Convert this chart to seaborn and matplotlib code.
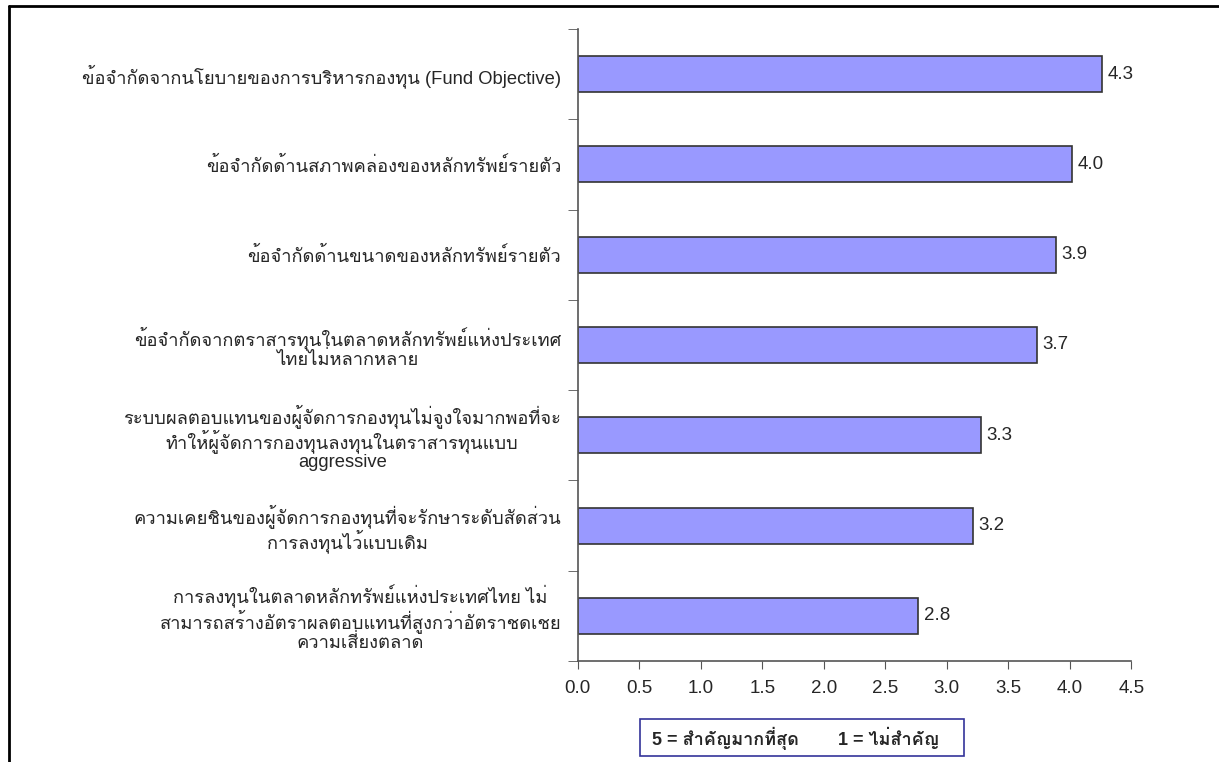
import matplotlib
matplotlib.use("Agg")
import matplotlib.pyplot as plt
import seaborn as sns
import pandas as pd
from matplotlib.lines import Line2D
from matplotlib.patches import Rectangle
from matplotlib.ticker import FixedLocator

# ข้อมูลจากกราฟ (คะแนนเฉลี่ย)
factors = [
    "ข้อจำกัดจากนโยบายของการบริหารกองทุน (Fund Objective)",
    "ข้อจำกัดด้านสภาพคล่องของหลักทรัพย์รายตัว",
    "ข้อจำกัดด้านขนาดของหลักทรัพย์รายตัว",
    "ข้อจำกัดจากตราสารทุนในตลาดหลักทรัพย์แห่งประเทศ\nไทยไม่หลากหลาย",
    "ระบบผลตอบแทนของผู้จัดการกองทุนไม่จูงใจมากพอที่จะ\nทำให้ผู้จัดการกองทุนลงทุนในตราสารทุนแบบ\naggressive",
    "ความเคยชินของผู้จัดการกองทุนที่จะรักษาระดับสัดส่วน\nการลงทุนไว้แบบเดิม",
    "การลงทุนในตลาดหลักทรัพย์แห่งประเทศไทย ไม่\nสามารถสร้างอัตราผลตอบแทนที่สูงกว่าอัตราชดเชย\nความเสี่ยงตลาด",
]
scores = [4.26, 4.02, 3.89, 3.73, 3.28, 3.21, 2.77]
x_ticks = [0.0, 0.5, 1.0, 1.5, 2.0, 2.5, 3.0, 3.5, 4.0, 4.5]
legend_left = "5 = สำคัญมากที่สุด"
legend_right = "1 = ไม่สำคัญ"

sns.set_style("white")
plt.rcParams['font.family'] = ['Liberation Sans', 'Loma', 'Noto Sans Thai Looped', 'DejaVu Sans']

df = pd.DataFrame({'factor': factors, 'score': scores})

fig = plt.figure(figsize=(12.19, 7.62), dpi=100)
ax = fig.add_axes([0.474, 0.1325, 0.454, 0.8295])

sns.barplot(data=df, x='score', y='factor', orient='h', color='#9999FF',
            edgecolor='#333333', linewidth=1.2, width=0.4, saturation=1, ax=ax)

ax.bar_label(ax.containers[0], fmt='%.1f', padding=4, fontsize=13.5)

ax.set_xlim(0, 4.5)
ax.set_ylim(len(factors) - 0.5, -0.5)
ax.set_xticks(x_ticks)
ax.set_xticklabels([f"{t:.1f}" for t in x_ticks])
ax.set_xlabel('')
ax.set_ylabel('')

# ขีดแบ่งกลุ่มบนแกน y
ax.yaxis.set_minor_locator(FixedLocator([i + 0.5 for i in range(-1, len(factors))]))
ax.tick_params(axis='y', which='major', length=0, pad=12, labelsize=13.2)
ax.tick_params(axis='y', which='minor', length=7, color='#555555', direction='out', left=True)
ax.tick_params(axis='x', length=6, color='#555555', direction='out', bottom=True, pad=8, labelsize=13.5)
for lbl in ax.get_yticklabels():
    lbl.set_multialignment('center')
    lbl.set_linespacing(1.05)

for side in ['top', 'right']:
    ax.spines[side].set_visible(False)
for side in ['left', 'bottom']:
    ax.spines[side].set_color('#555555')
    ax.spines[side].set_linewidth(1.2)

# กล่องคำอธิบายคะแนน
fig.add_artist(Rectangle((0.525, 0.008), 0.266, 0.0486, transform=fig.transFigure,
                         facecolor='white', edgecolor='#333399', linewidth=1.2))
fig.text(0.535, 0.0315, legend_left, fontsize=13, fontweight='bold', va='center')
fig.text(0.6875, 0.0315, legend_right, fontsize=13, fontweight='bold', va='center')

# กรอบรูป
fig.add_artist(Line2D([0.0074, 1.0], [0.992, 0.992], transform=fig.transFigure, color='black', linewidth=2))
fig.add_artist(Line2D([0.0074, 0.0074], [0.0, 0.992], transform=fig.transFigure, color='black', linewidth=2))

fig.savefig('out.png', dpi=100)
